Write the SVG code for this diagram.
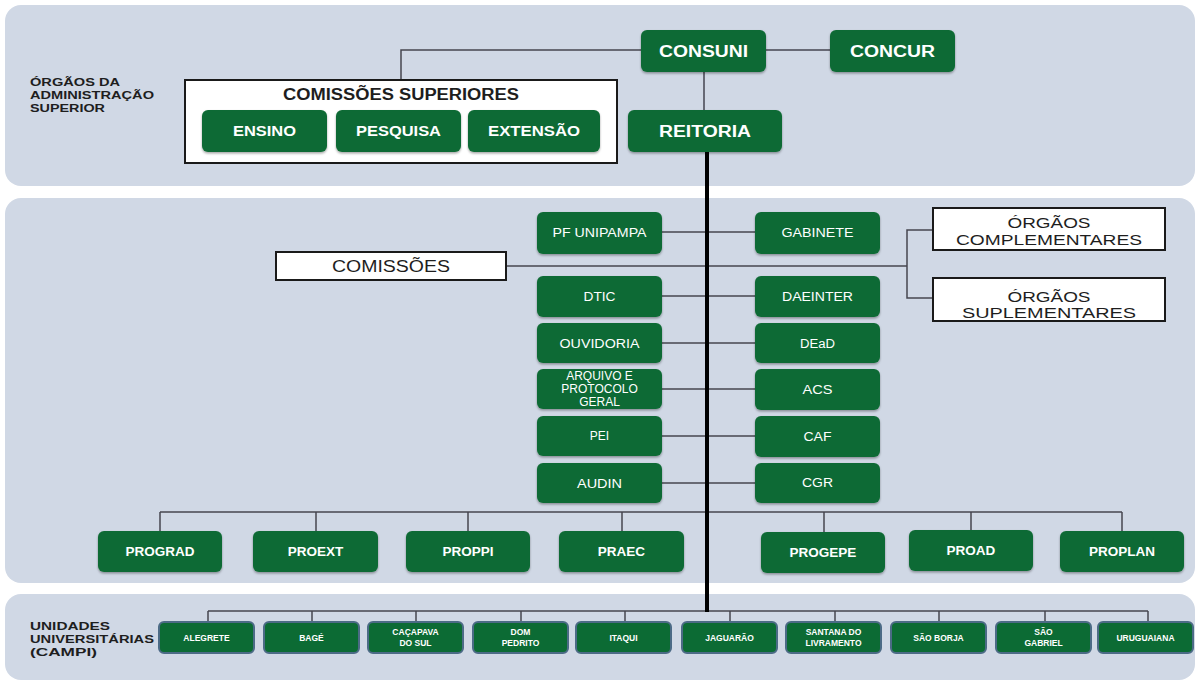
<svg xmlns="http://www.w3.org/2000/svg" width="1198" height="681" viewBox="0 0 1198 681">
<defs>
<filter id="sh" x="-10%" y="-10%" width="120%" height="140%">
<feDropShadow dx="0" dy="1.5" stdDeviation="1" flood-color="#000" flood-opacity="0.35"/>
</filter>
</defs>
<style>
.panel{fill:#d0d8e5}
.g{fill:#0c6b34;filter:url(#sh)}
.c{fill:#0c6b34;stroke:#4c6b86;stroke-width:2}
.wb{fill:#fff;stroke:#1a1a1a;stroke-width:2}
.t{font-family:"Liberation Sans",Arial,sans-serif;fill:#fff;text-anchor:middle}
.b{font-weight:bold}
.s{font-size:8.5px}
.lab{font-family:"Liberation Sans",Arial,sans-serif;font-weight:bold;font-size:11.5px;fill:#1e1e1e}
.k{font-family:"Liberation Sans",Arial,sans-serif;fill:#1e1e1e;text-anchor:middle}
.ln{fill:none;stroke:#45454f;stroke-width:1.5}
.thick{fill:none;stroke:#000;stroke-width:4}
</style>
<rect x="0" y="0" width="1198" height="681" fill="#fff"/>
<g id="panels">
<rect class="panel" x="5" y="5" width="1190" height="181" rx="16"/>
<rect class="panel" x="5" y="198" width="1190" height="385" rx="16"/>
<rect class="panel" x="5" y="594" width="1190" height="86" rx="16"/>
</g>
<g id="labels">
<text class="lab" x="30" y="86" textLength="90" lengthAdjust="spacingAndGlyphs">ÓRGÃOS DA</text>
<text class="lab" x="30" y="99" textLength="124" lengthAdjust="spacingAndGlyphs">ADMINISTRAÇÃO</text>
<text class="lab" x="30" y="112" textLength="75" lengthAdjust="spacingAndGlyphs">SUPERIOR</text>
<text class="lab" x="30" y="630" textLength="80" lengthAdjust="spacingAndGlyphs">UNIDADES</text>
<text class="lab" x="30" y="643" textLength="124" lengthAdjust="spacingAndGlyphs">UNIVERSITÁRIAS</text>
<text class="lab" x="30" y="656" textLength="67" lengthAdjust="spacingAndGlyphs">(CAMPI)</text>
</g>
<g id="connectors">
<path class="ln" d="M641,50 H401 V80"/>
<path class="ln" d="M766,50 H830"/>
<path class="ln" d="M704,72 V110"/>
<path class="ln" d="M662,232 H755 M662,296 H755 M662,343 H755 M662,389 H755 M662,436 H755 M662,483 H755"/>
<path class="ln" d="M506,266 H907 M933,230 H907 V298 H933"/>
<path class="ln" d="M160,512 H1122 M160,512 V531 M316,512 V531 M468,512 V531 M622,512 V531 M824,512 V532 M971,512 V530 M1122,512 V531"/>
<path class="ln" d="M208,611 H1148 M208,611 V622 M312,611 V622 M416,611 V622 M521,611 V622 M625,611 V622 M730,611 V622 M835,611 V622 M939,611 V622 M1045,611 V622 M1148,611 V622"/>
<path class="thick" d="M707,152 V612"/>
</g>
<g id="consuni"><rect class="g" x="641" y="30" width="125" height="42" rx="6"/><text class="t b" x="703.5" y="57" font-size="16" textLength="89" lengthAdjust="spacingAndGlyphs">CONSUNI</text></g>
<g id="concur"><rect class="g" x="830" y="30" width="125" height="42" rx="6"/><text class="t b" x="892.5" y="57" font-size="16" textLength="85" lengthAdjust="spacingAndGlyphs">CONCUR</text></g>
<g id="reitoria"><rect class="g" x="628" y="110" width="154" height="42" rx="6"/><text class="t b" x="705" y="137" font-size="16" textLength="92" lengthAdjust="spacingAndGlyphs">REITORIA</text></g>
<g id="comissoes-superiores">
<rect class="wb" x="185" y="80" width="432" height="83"/>
<text class="k b" x="401" y="100" font-size="16" textLength="236" lengthAdjust="spacingAndGlyphs">COMISSÕES SUPERIORES</text>
</g>
<g id="ensino"><rect class="g" x="202" y="110" width="125" height="42" rx="6"/><text class="t b" x="264.5" y="136" font-size="14" textLength="63" lengthAdjust="spacingAndGlyphs">ENSINO</text></g>
<g id="pesquisa"><rect class="g" x="336" y="110" width="125" height="42" rx="6"/><text class="t b" x="398.5" y="136" font-size="14" textLength="85" lengthAdjust="spacingAndGlyphs">PESQUISA</text></g>
<g id="extensao"><rect class="g" x="468" y="110" width="132" height="42" rx="6"/><text class="t b" x="534" y="136" font-size="14" textLength="92" lengthAdjust="spacingAndGlyphs">EXTENSÃO</text></g>
<g id="comissoes">
<rect class="wb" x="276" y="252" width="230" height="28"/>
<text class="k" x="391" y="272" font-size="16" textLength="118" lengthAdjust="spacingAndGlyphs">COMISSÕES</text>
</g>
<g id="orgaos-complementares">
<rect class="wb" x="933" y="208" width="232" height="42"/>
<text class="k" x="1049" y="228" font-size="14" textLength="83" lengthAdjust="spacingAndGlyphs">ÓRGÃOS</text>
<text class="k" x="1049" y="245" font-size="14" textLength="186" lengthAdjust="spacingAndGlyphs">COMPLEMENTARES</text>
</g>
<g id="orgaos-suplementares">
<rect class="wb" x="933" y="278" width="232" height="43"/>
<text class="k" x="1049" y="302" font-size="14" textLength="83" lengthAdjust="spacingAndGlyphs">ÓRGÃOS</text>
<text class="k" x="1049" y="318" font-size="14" textLength="174" lengthAdjust="spacingAndGlyphs">SUPLEMENTARES</text>
</g>
<g id="pf-unipampa"><rect class="g" x="537" y="212" width="125" height="42" rx="6"/><text class="t" x="599.5" y="237" font-size="12" textLength="94" lengthAdjust="spacingAndGlyphs">PF UNIPAMPA</text></g>
<g id="gabinete"><rect class="g" x="755" y="212" width="125" height="42" rx="6"/><text class="t" x="817.5" y="237" font-size="12" textLength="72" lengthAdjust="spacingAndGlyphs">GABINETE</text></g>
<g id="dtic"><rect class="g" x="537" y="276" width="125" height="41" rx="6"/><text class="t" x="599.5" y="301" font-size="12" textLength="32" lengthAdjust="spacingAndGlyphs">DTIC</text></g>
<g id="daeinter"><rect class="g" x="755" y="276" width="125" height="41" rx="6"/><text class="t" x="817.5" y="301" font-size="12" textLength="71" lengthAdjust="spacingAndGlyphs">DAEINTER</text></g>
<g id="ouvidoria"><rect class="g" x="537" y="323" width="125" height="40" rx="6"/><text class="t" x="599.5" y="348" font-size="12" textLength="80" lengthAdjust="spacingAndGlyphs">OUVIDORIA</text></g>
<g id="dead"><rect class="g" x="755" y="323" width="125" height="40" rx="6"/><text class="t" x="817.5" y="348" font-size="12" textLength="35" lengthAdjust="spacingAndGlyphs">DEaD</text></g>
<g id="arquivo"><rect class="g" x="537" y="369" width="125" height="40" rx="6"/>
<text class="t" x="599.5" y="380" font-size="12">ARQUIVO E</text>
<text class="t" x="599.5" y="393" font-size="12">PROTOCOLO</text>
<text class="t" x="599.5" y="406" font-size="12">GERAL</text></g>
<g id="acs"><rect class="g" x="755" y="369" width="125" height="41" rx="6"/><text class="t" x="817.5" y="394" font-size="12" textLength="30" lengthAdjust="spacingAndGlyphs">ACS</text></g>
<g id="pei"><rect class="g" x="537" y="416" width="125" height="40" rx="6"/><text class="t" x="599.5" y="440" font-size="12">PEI</text></g>
<g id="caf"><rect class="g" x="755" y="416" width="125" height="41" rx="6"/><text class="t" x="817.5" y="441" font-size="12" textLength="28" lengthAdjust="spacingAndGlyphs">CAF</text></g>
<g id="audin"><rect class="g" x="537" y="463" width="125" height="40" rx="6"/><text class="t" x="599.5" y="488" font-size="12" textLength="45" lengthAdjust="spacingAndGlyphs">AUDIN</text></g>
<g id="cgr"><rect class="g" x="755" y="463" width="125" height="40" rx="6"/><text class="t" x="817.5" y="487" font-size="12" textLength="31" lengthAdjust="spacingAndGlyphs">CGR</text></g>
<g id="prograd"><rect class="g" x="98" y="531" width="124" height="41" rx="6"/><text class="t b" x="160" y="556" font-size="13.5">PROGRAD</text></g>
<g id="proext"><rect class="g" x="253" y="531" width="125" height="41" rx="6"/><text class="t b" x="315.5" y="556" font-size="13.5">PROEXT</text></g>
<g id="proppi"><rect class="g" x="406" y="531" width="124" height="41" rx="6"/><text class="t b" x="468" y="556" font-size="13.5">PROPPI</text></g>
<g id="praec"><rect class="g" x="559" y="531" width="125" height="41" rx="6"/><text class="t b" x="621.5" y="556" font-size="13.5">PRAEC</text></g>
<g id="progepe"><rect class="g" x="761" y="532" width="124" height="41" rx="6"/><text class="t b" x="823" y="557" font-size="13.5">PROGEPE</text></g>
<g id="proad"><rect class="g" x="909" y="530" width="124" height="41" rx="6"/><text class="t b" x="971" y="555" font-size="13.5">PROAD</text></g>
<g id="proplan"><rect class="g" x="1060" y="531" width="124" height="41" rx="6"/><text class="t b" x="1122" y="556" font-size="13.5">PROPLAN</text></g>
<g id="alegrete"><rect class="c" x="159" y="622" width="95" height="31" rx="5"/><text class="t b s" x="206.5" y="640.5">ALEGRETE</text></g>
<g id="bage"><rect class="c" x="264" y="622" width="95" height="31" rx="5"/><text class="t b s" x="311.5" y="640.5">BAGÉ</text></g>
<g id="cacapava"><rect class="c" x="368" y="622" width="95" height="31" rx="5"/><text class="t b s" x="415.5" y="635">CAÇAPAVA</text><text class="t b s" x="415.5" y="645.5">DO SUL</text></g>
<g id="dom-pedrito"><rect class="c" x="473" y="622" width="95" height="31" rx="5"/><text class="t b s" x="520.5" y="635">DOM</text><text class="t b s" x="520.5" y="645.5">PEDRITO</text></g>
<g id="itaqui"><rect class="c" x="576" y="622" width="95" height="31" rx="5"/><text class="t b s" x="623.5" y="640.5">ITAQUI</text></g>
<g id="jaguarao"><rect class="c" x="682" y="622" width="95" height="31" rx="5"/><text class="t b s" x="729.5" y="640.5">JAGUARÃO</text></g>
<g id="santana"><rect class="c" x="786" y="622" width="95" height="31" rx="5"/><text class="t b s" x="833.5" y="635">SANTANA DO</text><text class="t b s" x="833.5" y="645.5">LIVRAMENTO</text></g>
<g id="sao-borja"><rect class="c" x="891" y="622" width="95" height="31" rx="5"/><text class="t b s" x="938.5" y="640.5">SÃO BORJA</text></g>
<g id="sao-gabriel"><rect class="c" x="996" y="622" width="95" height="31" rx="5"/><text class="t b s" x="1043.5" y="635">SÃO</text><text class="t b s" x="1043.5" y="645.5">GABRIEL</text></g>
<g id="uruguaiana"><rect class="c" x="1098" y="622" width="95" height="31" rx="5"/><text class="t b s" x="1145.5" y="640.5">URUGUAIANA</text></g>
</svg>
